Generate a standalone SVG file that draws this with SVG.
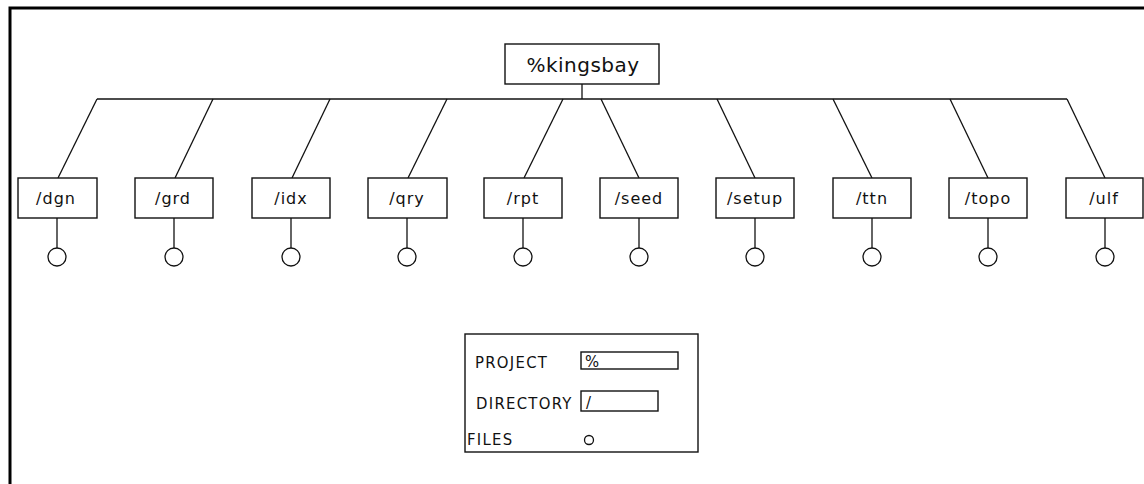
<svg xmlns="http://www.w3.org/2000/svg" width="1144" height="484" viewBox="0 0 1144 484">
  <defs>
    <style>
      .frame { fill: none; stroke: #000; stroke-width: 3; }
      .box { fill: #fff; stroke: #111; stroke-width: 1.4; }
      .link { fill: none; stroke: #111; stroke-width: 1.3; }
      .file { fill: #fff; stroke: #111; stroke-width: 1.3; }
      .lbl { font-family: "DejaVu Sans", "Liberation Sans", sans-serif; font-size: 16px; fill: #111; text-anchor: middle; letter-spacing: 1px; }
      .root { font-family: "DejaVu Sans", "Liberation Sans", sans-serif; font-size: 20px; fill: #111; text-anchor: middle; letter-spacing: 0.5px; }
      .key { font-family: "DejaVu Sans Condensed", "DejaVu Sans", sans-serif; font-size: 16.5px; fill: #111; letter-spacing: 1.3px; }
    </style>
  </defs>

  <rect width="1144" height="484" fill="#fff"/>

  <!-- page border: top and left edges only -->
  <path class="frame" d="M10,484 V8 H1144"/>

  <!-- tree connectors -->
  <g id="connectors">
    <line class="link" x1="582" y1="84" x2="582" y2="99"/>
    <line class="link" x1="97" y1="99" x2="1067" y2="99"/>
    <line class="link" x1="97" y1="99" x2="58" y2="178"/>
    <line class="link" x1="213" y1="99" x2="175" y2="178"/>
    <line class="link" x1="330" y1="99" x2="292" y2="178"/>
    <line class="link" x1="447" y1="99" x2="408" y2="178"/>
    <line class="link" x1="563" y1="99" x2="524" y2="178"/>
    <line class="link" x1="601" y1="99" x2="639" y2="178"/>
    <line class="link" x1="717" y1="99" x2="755" y2="178"/>
    <line class="link" x1="833" y1="99" x2="872" y2="178"/>
    <line class="link" x1="950" y1="99" x2="988" y2="178"/>
    <line class="link" x1="1067" y1="99" x2="1105" y2="178"/>
    <!-- file stems -->
    <line class="link" x1="57" y1="218" x2="57" y2="248"/>
    <line class="link" x1="174" y1="218" x2="174" y2="248"/>
    <line class="link" x1="291" y1="218" x2="291" y2="248"/>
    <line class="link" x1="407" y1="218" x2="407" y2="248"/>
    <line class="link" x1="523" y1="218" x2="523" y2="248"/>
    <line class="link" x1="639" y1="218" x2="639" y2="248"/>
    <line class="link" x1="755" y1="218" x2="755" y2="248"/>
    <line class="link" x1="872" y1="218" x2="872" y2="248"/>
    <line class="link" x1="988" y1="218" x2="988" y2="248"/>
    <line class="link" x1="1105" y1="218" x2="1105" y2="248"/>
  </g>

  <!-- project root -->
  <g id="root">
    <rect class="box" x="505" y="44" width="154" height="40"/>
    <text class="root" x="583" y="72">%kingsbay</text>
  </g>

  <!-- directories -->
  <g id="dir-dgn">
    <rect class="box" x="18" y="178" width="79" height="40"/>
    <text class="lbl" x="56" y="204">/dgn</text>
    <circle class="file" cx="57" cy="257" r="9"/>
  </g>
  <g id="dir-grd">
    <rect class="box" x="135" y="178" width="78" height="40"/>
    <text class="lbl" x="173" y="204">/grd</text>
    <circle class="file" cx="174" cy="257" r="9"/>
  </g>
  <g id="dir-idx">
    <rect class="box" x="252" y="178" width="78" height="40"/>
    <text class="lbl" x="291" y="204">/idx</text>
    <circle class="file" cx="291" cy="257" r="9"/>
  </g>
  <g id="dir-qry">
    <rect class="box" x="368" y="178" width="79" height="40"/>
    <text class="lbl" x="407" y="204">/qry</text>
    <circle class="file" cx="407" cy="257" r="9"/>
  </g>
  <g id="dir-rpt">
    <rect class="box" x="484" y="178" width="78" height="40"/>
    <text class="lbl" x="523" y="204">/rpt</text>
    <circle class="file" cx="523" cy="257" r="9"/>
  </g>
  <g id="dir-seed">
    <rect class="box" x="600" y="178" width="78" height="40"/>
    <text class="lbl" x="639" y="204">/seed</text>
    <circle class="file" cx="639" cy="257" r="9"/>
  </g>
  <g id="dir-setup">
    <rect class="box" x="716" y="178" width="78" height="40"/>
    <text class="lbl" x="755" y="204">/setup</text>
    <circle class="file" cx="755" cy="257" r="9"/>
  </g>
  <g id="dir-ttn">
    <rect class="box" x="833" y="178" width="78" height="40"/>
    <text class="lbl" x="872" y="204">/ttn</text>
    <circle class="file" cx="872" cy="257" r="9"/>
  </g>
  <g id="dir-topo">
    <rect class="box" x="949" y="178" width="78" height="40"/>
    <text class="lbl" x="988" y="204">/topo</text>
    <circle class="file" cx="988" cy="257" r="9"/>
  </g>
  <g id="dir-ulf">
    <rect class="box" x="1066" y="178" width="77" height="40"/>
    <text class="lbl" x="1104" y="204">/ulf</text>
    <circle class="file" cx="1105" cy="257" r="9"/>
  </g>

  <!-- key -->
  <g id="legend">
    <rect class="box" x="465" y="334" width="233" height="118"/>
    <text class="key" x="475" y="368">PROJECT</text>
    <rect class="box" x="581" y="352" width="97" height="17"/>
    <text class="key" x="585" y="367">%</text>
    <text class="key" x="476" y="409">DIRECTORY</text>
    <rect class="box" x="581" y="391" width="77" height="20"/>
    <text class="key" x="586" y="408">/</text>
    <text class="key" x="467" y="445">FILES</text>
    <circle class="file" cx="589" cy="440" r="4.5"/>
  </g>
</svg>
